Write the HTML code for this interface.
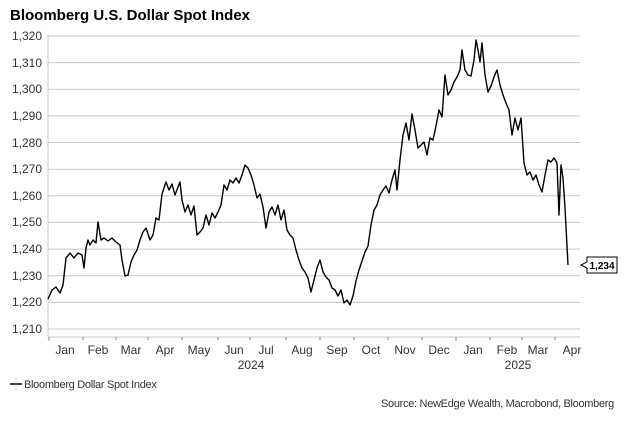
<!DOCTYPE html>
<html><head><meta charset="utf-8"><style>
body{margin:0;background:#fff;}
svg text{font-family:"Liberation Sans",Arial,sans-serif;}
</style></head><body>
<svg width="625" height="419" xmlns="http://www.w3.org/2000/svg">
<rect width="625" height="419" fill="#fff"/>
<text x="10" y="20" font-size="15" font-weight="bold" fill="#000">Bloomberg U.S. Dollar Spot Index</text>
<g stroke="#c8c8c8" stroke-width="1">
<line x1="48" x2="580" y1="36" y2="36"/><line x1="48" x2="580" y1="62.6" y2="62.6"/>
<line x1="48" x2="580" y1="89.3" y2="89.3"/><line x1="48" x2="580" y1="115.9" y2="115.9"/>
<line x1="48" x2="580" y1="142.5" y2="142.5"/><line x1="48" x2="580" y1="169.2" y2="169.2"/>
<line x1="48" x2="580" y1="195.8" y2="195.8"/><line x1="48" x2="580" y1="222.4" y2="222.4"/>
<line x1="48" x2="580" y1="249.1" y2="249.1"/><line x1="48" x2="580" y1="275.7" y2="275.7"/>
<line x1="48" x2="580" y1="302.4" y2="302.4"/><line x1="48" x2="580" y1="329" y2="329"/>
<line x1="48" x2="48" y1="34" y2="337"/><line x1="48" x2="580" y1="337" y2="337"/>
</g>
<g stroke="#888" stroke-width="1">
<line x1="49" x2="49" y1="337" y2="341"/><line x1="83" x2="83" y1="337" y2="340"/><line x1="116" x2="116" y1="337" y2="340"/>
<line x1="148" x2="148" y1="337" y2="340"/><line x1="182" x2="182" y1="337" y2="340"/><line x1="218" x2="218" y1="337" y2="340"/>
<line x1="250" x2="250" y1="337" y2="340"/><line x1="286" x2="286" y1="337" y2="340"/><line x1="320" x2="320" y1="337" y2="340"/>
<line x1="354" x2="354" y1="337" y2="340"/><line x1="388" x2="388" y1="337" y2="340"/><line x1="422" x2="422" y1="337" y2="340"/>
<line x1="456" x2="456" y1="337" y2="341"/><line x1="490" x2="490" y1="337" y2="340"/><line x1="522" x2="522" y1="337" y2="340"/>
<line x1="555" x2="555" y1="337" y2="340"/>
</g>
<g font-size="12" fill="#333" text-anchor="end">
<text x="42" y="40">1,320</text><text x="42" y="67">1,310</text><text x="42" y="93">1,300</text>
<text x="42" y="120">1,290</text><text x="42" y="147">1,280</text><text x="42" y="173">1,270</text>
<text x="42" y="200">1,260</text><text x="42" y="226">1,250</text><text x="42" y="253">1,240</text>
<text x="42" y="280">1,230</text><text x="42" y="306">1,220</text><text x="42" y="333">1,210</text>
</g>
<g font-size="12" fill="#333" text-anchor="middle">
<text x="65" y="354">Jan</text><text x="98" y="354">Feb</text><text x="131" y="354">Mar</text>
<text x="165" y="354">Apr</text><text x="199" y="354">May</text><text x="234" y="354">Jun</text>
<text x="266" y="354">Jul</text><text x="302" y="354">Aug</text><text x="337" y="354">Sep</text>
<text x="371" y="354">Oct</text><text x="405" y="354">Nov</text><text x="439" y="354">Dec</text>
<text x="473" y="354">Jan</text><text x="507" y="354">Feb</text><text x="538" y="354">Mar</text>
<text x="572" y="354">Apr</text>
<text x="251" y="369">2024</text><text x="518" y="369">2025</text>
</g>
<polyline fill="none" stroke="#000" stroke-width="1.4" stroke-linejoin="round" points="48,299 52,290 56,287 60,293 63,285 66,258 70,253 74,258 78,253 82,255 84,268 86,248 88,240 90,245 93,240 96,243 98,222 101,240 104,238 108,241 112,238 116,242 120,245 122,260 125,276 128,275 131,262 134,255 137,250 140,240 143,232 146,228 150,240 153,235 156,218 159,220 162,194 166,182 169,190 172,184 175,195 178,187 180,182 182,200 185,212 188,205 191,215 194,206 197,235 200,232 203,228 206,215 209,225 212,213 215,218 218,212 221,205 224,185 227,190 230,180 233,183 236,178 239,183 242,175 245,165 248,168 251,175 254,185 257,198 260,194 263,207 266,228 269,212 272,207 275,215 278,205 281,220 284,210 287,230 290,235 293,238 296,250 299,260 302,268 305,272 308,278 311,292 314,280 317,268 320,260 323,272 326,277 329,280 332,288 335,290 338,296 341,290 344,303 347,300 350,305 353,296 356,281 359,270 362,261 365,252 368,246 371,225 374,210 377,205 380,195 383,190 386,186 389,193 392,180 395,170 397,190 400,160 403,135 406,123 409,140 412,114 415,130 418,148 421,145 424,142 427,155 430,138 433,140 436,126 439,110 442,117 445,75 448,95 451,90 454,82 457,77 460,70 462,50 465,70 468,75 471,76 474,60 476,40 478,50 480,62 482,43 485,75 488,92 491,86 494,77 497,70 500,85 503,95 506,103 509,110 512,135 515,118 518,130 521,118 524,163 527,175 530,172 533,180 536,175 539,185 542,192 545,175 548,160 551,162 554,158 557,163 559,215 561,165 563,178 565,208 568,265"/>
<path d="M587,257 H617 V273 H587 V268 L581,265 L587,262 Z" fill="#fff" stroke="#000" stroke-width="1"/>
<text x="602" y="269" font-size="10" font-weight="bold" text-anchor="middle">1,234</text>
<line x1="10" x2="22" y1="384" y2="384" stroke="#000" stroke-width="1.5"/>
<text x="24" y="388" font-size="11" fill="#333" letter-spacing="-0.3">Bloomberg Dollar Spot Index</text>
<text x="614" y="407" font-size="11" fill="#333" text-anchor="end" letter-spacing="-0.3">Source: NewEdge Wealth, Macrobond, Bloomberg</text>
</svg>
</body></html>
